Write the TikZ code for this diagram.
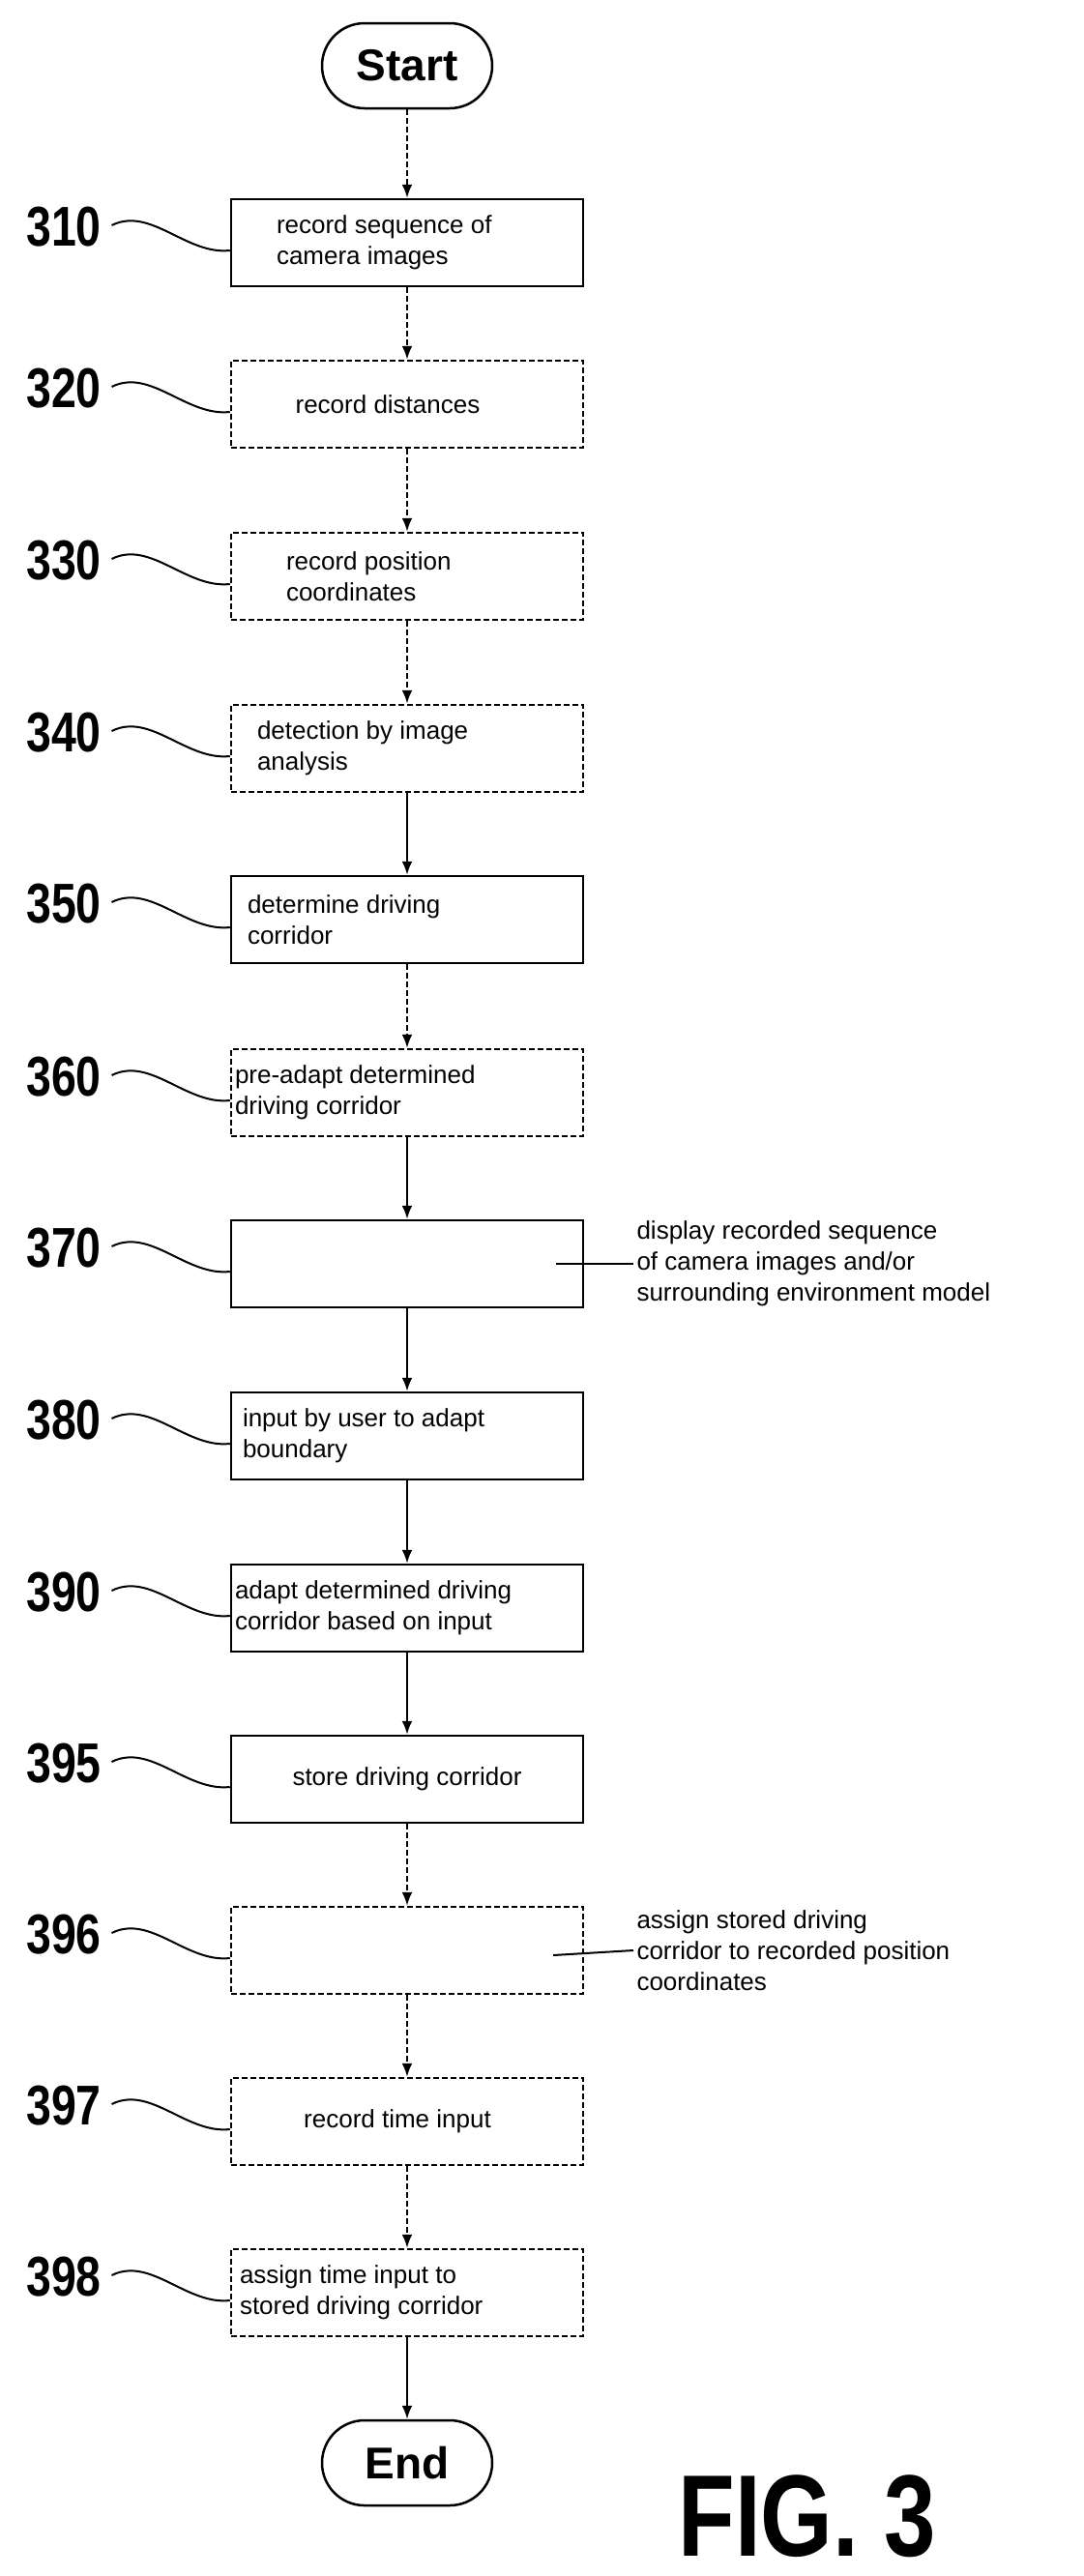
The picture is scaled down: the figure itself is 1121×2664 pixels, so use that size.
\documentclass[tikz,border=0pt]{standalone}
\usepackage{fontspec}
\setmainfont{Liberation Sans}
\usetikzlibrary{arrows.meta}
\begin{document}
\begin{tikzpicture}[x=1pt,y=-1pt,
 box/.style={draw,line width=2.5pt,minimum width=364pt,minimum height=90pt,font=\fontsize{26}{32}\selectfont,inner sep=0pt},
 dbox/.style={box,dash pattern=on 6pt off 3pt},
 term/.style={draw,line width=2.5pt,rounded corners=44pt,minimum width=176pt,minimum height=88pt,font=\fontsize{46}{50}\selectfont\bfseries},
 arr/.style={line width=2.2pt,-{Latex[length=14pt,width=11pt]}},
 darr/.style={arr,dash pattern=on 6pt off 3pt},
 lab/.style={font=\fontsize{58}{60}\selectfont\bfseries,xscale=0.8},
 wave/.style={line width=2pt},
 ann/.style={font=\fontsize{26}{32}\selectfont,align=left,anchor=west}]
\useasboundingbox (0,0) rectangle (1121,2664);
\node[term] (start) at (421,68) {Start};
\node[box] (b310) at (421,251) {\parbox{330pt}{\raggedright\hspace*{30pt}record sequence of\\\hspace*{30pt}camera images}};
\node[dbox] (b320) at (421,418) {\hspace*{-40pt}record distances};
\node[dbox] (b330) at (421,596) {\parbox{330pt}{\raggedright\hspace*{40pt}record position\\\hspace*{40pt}coordinates}};
\node[dbox] (b340) at (421,774) {\parbox{340pt}{\raggedright\hspace*{15pt}detection by image\\\hspace*{15pt}analysis}};
\node[box] (b350) at (421,951) {\parbox{340pt}{\raggedright\hspace*{5pt}determine driving\\\hspace*{5pt}corridor}};
\node[dbox] (b360) at (421,1130) {\parbox{356pt}{\raggedright pre-adapt determined\\driving corridor}};
\node[box] (b370) at (421,1307) {};
\node[box] (b380) at (421,1485) {\parbox{350pt}{\raggedright\hspace*{5pt}input by user to adapt\\\hspace*{5pt}boundary}};
\node[box] (b390) at (421,1663) {\parbox{356pt}{\raggedright adapt determined driving\\corridor based on input}};
\node[box] (b395) at (421,1840) {store driving corridor};
\node[dbox] (b396) at (421,2017) {};
\node[dbox] (b397) at (421,2194) {\hspace*{-20pt}record time input};
\node[dbox] (b398) at (421,2371) {\parbox{354pt}{\raggedright\hspace*{4pt}assign time input to\\\hspace*{4pt}stored driving corridor}};
\node[term] (end) at (421,2547) {End};
\draw[darr] (start) -- (b310);
\draw[darr] (b310) -- (b320);
\draw[darr] (b320) -- (b330);
\draw[darr] (b330) -- (b340);
\draw[arr] (b340) -- (b350);
\draw[darr] (b350) -- (b360);
\draw[arr] (b360) -- (b370);
\draw[arr] (b370) -- (b380);
\draw[arr] (b380) -- (b390);
\draw[arr] (b390) -- (b395);
\draw[darr] (b395) -- (b396);
\draw[darr] (b396) -- (b397);
\draw[darr] (b397) -- (b398);
\draw[arr] (b398) -- (end);
\foreach \n/\y in {310/251,320/418,330/596,340/774,350/951,360/1130,370/1307,380/1485,390/1663,395/1840,396/2017,397/2194,398/2371}{
 \node[lab] (l\n) at (66,\y-16) {\n};
 \draw[wave] (l\n.east) ++(8pt,2pt) .. controls +(40,-20) and +(-45,5) .. (b\n.west|-0,\y+8);
}
\node[ann] (t370) at (655,1307) {display recorded sequence\\of camera images and/or\\surrounding environment model};
\draw[wave] (575,1307) -- (t370.west);
\node[ann] (t396) at (655,2017) {assign stored driving\\corridor to recorded position\\coordinates};
\draw[wave] (572,2022) -- (t396.west);
\node[font=\fontsize{120}{120}\selectfont\bfseries,xscale=0.8] (fig) at (835,2602) {FIG. 3};
\end{tikzpicture}
\end{document}
